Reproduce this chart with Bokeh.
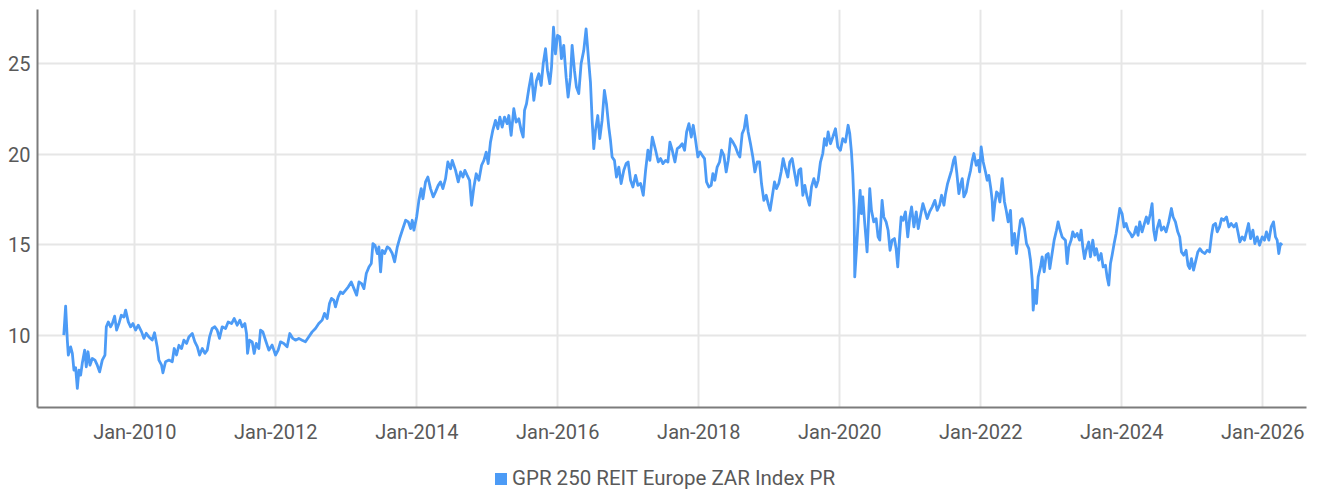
import pandas as pd
from bokeh.plotting import figure
from bokeh.layouts import column
from bokeh.models import (FixedTicker, DatetimeTickFormatter, Legend, LegendItem,
                          Range1d, ColumnDataSource)
from bokeh.embed import file_html
from bokeh.resources import INLINE

SERIES_NAME = "GPR 250 REIT Europe ZAR Index PR"

# decimal year / index level
t_2009_2011 = [2008.993, 2009.017, 2009.041, 2009.055, 2009.088, 2009.112, 2009.135, 2009.159,
               2009.183, 2009.206, 2009.230, 2009.253, 2009.287, 2009.310, 2009.334, 2009.362,
               2009.395, 2009.433, 2009.466, 2009.499, 2009.537, 2009.575, 2009.594, 2009.622,
               2009.655, 2009.679, 2009.712, 2009.740, 2009.773, 2009.807, 2009.844, 2009.868,
               2009.906, 2009.939, 2009.972, 2010.010, 2010.048, 2010.095, 2010.128, 2010.161,
               2010.199, 2010.246, 2010.279, 2010.317, 2010.341, 2010.379, 2010.398, 2010.435,
               2010.483, 2010.530, 2010.558, 2010.591, 2010.625, 2010.662, 2010.695, 2010.733,
               2010.766, 2010.814, 2010.851, 2010.885, 2010.918, 2010.956, 2010.993, 2011.027,
               2011.060, 2011.097, 2011.135, 2011.168, 2011.201, 2011.239, 2011.287, 2011.324,
               2011.372, 2011.410, 2011.452, 2011.490, 2011.523, 2011.561, 2011.584, 2011.599,
               2011.627, 2011.665, 2011.693, 2011.722, 2011.759, 2011.783, 2011.816, 2011.854]
v_2009_2011 = [10.0, 11.6, 9.72, 8.9, 9.35, 8.99, 8.07, 8.2,
               7.06, 8.07, 7.79, 8.44, 9.17, 8.25, 9.08, 8.34,
               8.71, 8.62, 8.34, 7.97, 8.62, 8.9, 10.46, 10.73,
               10.46, 10.64, 11.05, 10.28, 10.64, 11.1, 11.0, 11.38,
               10.73, 10.46, 10.64, 10.28, 10.55, 10.18, 9.82, 10.1,
               9.9, 9.73, 10.13, 9.35, 8.62, 8.34, 7.92, 8.53,
               8.62, 8.53, 9.26, 8.9, 9.44, 9.26, 9.72, 9.54,
               9.9, 10.09, 9.63, 9.36, 8.9, 9.26, 8.99, 9.17,
               9.9, 10.37, 10.46, 10.28, 9.82, 10.46, 10.37, 10.73,
               10.64, 10.92, 10.55, 10.83, 10.46, 10.64, 10.09, 8.99,
               9.72, 9.63, 8.99, 9.54, 9.26, 10.28, 10.18, 9.72]

t_2012_2014 = [2011.901, 2011.948, 2011.996, 2012.034, 2012.067, 2012.114, 2012.161, 2012.199,
               2012.242, 2012.279, 2012.327, 2012.374, 2012.421, 2012.469, 2012.516, 2012.563,
               2012.610, 2012.658, 2012.691, 2012.729, 2012.762, 2012.790, 2012.823, 2012.847,
               2012.885, 2012.918, 2012.951, 2012.989, 2013.027, 2013.069, 2013.107, 2013.145,
               2013.178, 2013.216, 2013.249, 2013.282, 2013.320, 2013.353, 2013.376, 2013.405,
               2013.438, 2013.461, 2013.485, 2013.509, 2013.542, 2013.580, 2013.613, 2013.651,
               2013.684, 2013.722, 2013.755, 2013.793, 2013.840, 2013.878, 2013.911, 2013.934,
               2013.958, 2013.996, 2014.029, 2014.062, 2014.086, 2014.123, 2014.156, 2014.194,
               2014.232, 2014.265, 2014.303, 2014.336, 2014.369, 2014.407, 2014.440, 2014.478,
               2014.502]
v_2012_2014 = [9.17, 9.45, 8.9, 9.17, 9.63, 9.54, 9.36, 10.09,
               9.82, 9.72, 9.82, 9.72, 9.63, 9.91, 10.18, 10.37,
               10.64, 10.83, 11.2, 10.92, 11.75, 12.03, 11.94, 11.56,
               12.12, 12.39, 12.3, 12.48, 12.67, 12.94, 12.57, 12.21,
               12.94, 12.85, 12.57, 13.41, 13.77, 13.96, 15.06, 14.97,
               14.51, 14.88, 13.5, 14.69, 14.51, 14.88, 14.78, 14.51,
               14.05, 14.88, 15.34, 15.8, 16.35, 16.26, 15.89, 16.35,
               15.8, 16.53, 17.45, 18.1, 17.54, 18.47, 18.74, 18.1,
               17.64, 17.92, 18.28, 18.47, 18.1, 18.65, 19.57, 19.2,
               19.66]

t_2014_2017 = [2014.549, 2014.587, 2014.620, 2014.653, 2014.681, 2014.714, 2014.748, 2014.776,
               2014.809, 2014.842, 2014.880, 2014.918, 2014.951, 2014.984, 2015.012, 2015.045,
               2015.078, 2015.116, 2015.149, 2015.178, 2015.211, 2015.244, 2015.282, 2015.305,
               2015.338, 2015.376, 2015.409, 2015.447, 2015.480, 2015.509, 2015.528, 2015.556,
               2015.589, 2015.627, 2015.660, 2015.698, 2015.731, 2015.764, 2015.793, 2015.826,
               2015.854, 2015.887, 2015.911, 2015.939, 2015.967, 2015.996, 2016.029, 2016.052,
               2016.085, 2016.119, 2016.147, 2016.180, 2016.204, 2016.237, 2016.265, 2016.298,
               2016.331, 2016.369, 2016.402, 2016.440, 2016.464, 2016.488, 2016.511, 2016.535,
               2016.568, 2016.596, 2016.629, 2016.662, 2016.691, 2016.724, 2016.748, 2016.771,
               2016.804, 2016.833, 2016.866, 2016.899, 2016.937, 2016.970, 2016.998, 2017.031,
               2017.064, 2017.102, 2017.135, 2017.173, 2017.211, 2017.244, 2017.277, 2017.305,
               2017.339]
v_2014_2017 = [19.11, 18.47, 19.02, 18.74, 19.11, 18.83, 18.56, 17.18,
               18.19, 18.92, 18.56, 19.39, 19.66, 20.12, 19.48, 20.67,
               21.32, 21.87, 21.41, 22.05, 21.5, 22.05, 21.69, 22.14,
               21.04, 22.52, 21.78, 21.96, 21.32, 20.95, 22.42, 22.79,
               23.62, 24.45, 22.98, 24.08, 24.45, 23.8, 25.0, 25.83,
               24.63, 23.9, 24.81, 27.02, 25.55, 26.57, 26.48, 25.28,
               26.02, 24.26, 23.16, 24.26, 26.02, 24.63, 23.71, 23.35,
               25.0, 25.74, 26.93, 25.09, 23.99, 21.87, 20.31, 21.32,
               22.14, 20.86, 21.87, 23.53, 22.79, 21.5, 20.77, 19.85,
               19.66, 18.74, 19.29, 18.38, 19.11, 19.48, 19.57, 18.56,
               18.19, 18.83, 18.28, 18.38, 17.73, 19.11, 20.22, 19.66,
               20.95]

t_2017_2020 = [2017.386, 2017.424, 2017.457, 2017.490, 2017.528, 2017.561, 2017.589, 2017.622,
               2017.660, 2017.693, 2017.726, 2017.764, 2017.797, 2017.826, 2017.859, 2017.892,
               2017.920, 2017.953, 2017.986, 2018.015, 2018.048, 2018.081, 2018.109, 2018.142,
               2018.175, 2018.199, 2018.227, 2018.260, 2018.294, 2018.322, 2018.355, 2018.388,
               2018.417, 2018.450, 2018.483, 2018.520, 2018.554, 2018.582, 2018.615, 2018.644,
               2018.672, 2018.700, 2018.733, 2018.766, 2018.795, 2018.828, 2018.861, 2018.889,
               2018.922, 2018.956, 2018.984, 2019.012, 2019.041, 2019.074, 2019.102, 2019.135,
               2019.168, 2019.197, 2019.230, 2019.263, 2019.291, 2019.324, 2019.357, 2019.390,
               2019.419, 2019.447, 2019.476, 2019.504, 2019.537, 2019.570, 2019.599, 2019.632,
               2019.665, 2019.693, 2019.726, 2019.759, 2019.783, 2019.811, 2019.835, 2019.868,
               2019.901, 2019.939, 2019.972, 2020.010, 2020.043, 2020.081, 2020.119, 2020.142,
               2020.166, 2020.185, 2020.204, 2020.213]
v_2017_2020 = [20.22, 19.57, 19.76, 19.48, 19.66, 19.57, 20.67, 20.22,
               19.57, 20.31, 20.4, 20.58, 20.22, 21.23, 21.69, 20.95,
               21.6, 20.77, 19.85, 20.13, 19.94, 19.76, 18.47, 18.19,
               18.28, 18.93, 18.56, 19.29, 19.57, 20.22, 19.94, 19.02,
               19.66, 20.86, 20.67, 20.4, 20.04, 19.85, 21.14, 21.41,
               22.15, 21.23, 20.58, 19.85, 19.02, 19.57, 19.57, 18.38,
               17.45, 17.73, 17.27, 16.9, 17.64, 18.47, 18.1, 18.38,
               19.02, 19.76, 19.2, 18.74, 19.57, 19.76, 19.02, 18.28,
               19.11, 19.2, 17.73, 18.28, 17.64, 17.18, 18.19, 18.65,
               18.19, 18.56, 19.57, 20.04, 20.86, 20.49, 21.23, 20.58,
               20.95, 21.41, 20.4, 20.22, 20.86, 20.67, 21.6, 21.14,
               20.13, 18.93, 17.09, 13.22]

t_2020_2023 = [2020.246, 2020.270, 2020.289, 2020.308, 2020.327, 2020.355, 2020.388, 2020.402,
               2020.426, 2020.450, 2020.483, 2020.516, 2020.544, 2020.568, 2020.601, 2020.625,
               2020.658, 2020.686, 2020.714, 2020.743, 2020.776, 2020.800, 2020.823, 2020.847,
               2020.871, 2020.899, 2020.932, 2020.965, 2020.994, 2021.017, 2021.050, 2021.083,
               2021.112, 2021.145, 2021.178, 2021.206, 2021.239, 2021.272, 2021.310, 2021.348,
               2021.381, 2021.414, 2021.443, 2021.476, 2021.499, 2021.528, 2021.556, 2021.584,
               2021.613, 2021.632, 2021.660, 2021.688, 2021.717, 2021.736, 2021.759, 2021.792,
               2021.821, 2021.854, 2021.878, 2021.901, 2021.934, 2021.963, 2021.982, 2022.005,
               2022.034, 2022.067, 2022.090, 2022.114, 2022.142, 2022.161, 2022.175, 2022.199,
               2022.223, 2022.246, 2022.270, 2022.303, 2022.336, 2022.360, 2022.388, 2022.421,
               2022.445, 2022.478, 2022.506, 2022.540, 2022.563, 2022.587, 2022.620, 2022.648,
               2022.681, 2022.705, 2022.729, 2022.743, 2022.767, 2022.790, 2022.814, 2022.847,
               2022.870, 2022.899, 2022.927, 2022.956, 2022.979, 2023.012, 2023.041, 2023.074,
               2023.097, 2023.126, 2023.154]
v_2020_2023 = [15.25, 16.9, 18.0, 16.72, 17.64, 16.17, 14.6, 15.8,
               18.1, 16.9, 16.26, 16.44, 15.43, 15.25, 17.45, 16.53,
               16.26, 15.8, 14.69, 15.25, 15.34, 14.78, 13.77, 15.25,
               16.53, 16.35, 16.81, 15.43, 16.53, 17.09, 15.98, 16.81,
               15.89, 16.62, 17.27, 16.9, 16.44, 16.81, 17.09, 17.45,
               16.9, 17.18, 17.73, 17.18, 17.82, 18.38, 18.74, 19.11,
               19.66, 19.85, 18.93, 17.82, 18.38, 18.65, 17.64, 17.92,
               18.56, 19.11, 19.66, 20.04, 19.39, 19.66, 19.02, 20.4,
               19.57, 19.02, 18.56, 18.83, 18.1, 17.45, 16.35, 17.27,
               17.92, 17.82, 17.36, 18.65, 17.36, 16.9, 16.26, 16.9,
               14.97, 15.62, 14.51, 15.71, 16.35, 16.44, 15.89, 15.06,
               14.78, 14.14, 13.04, 11.38, 12.48, 11.75, 13.22, 13.77,
               14.33, 13.5, 14.42, 14.51, 13.68, 14.51, 15.25, 15.8,
               16.26, 15.8, 15.43]

t_2023_2026 = [2023.201, 2023.225, 2023.249, 2023.282, 2023.305, 2023.334, 2023.367, 2023.400,
               2023.424, 2023.447, 2023.471, 2023.495, 2023.532, 2023.556, 2023.589, 2023.617,
               2023.641, 2023.674, 2023.707, 2023.736, 2023.769, 2023.792, 2023.816, 2023.840,
               2023.863, 2023.892, 2023.920, 2023.944, 2023.972, 2024.005, 2024.034, 2024.062,
               2024.090, 2024.123, 2024.147, 2024.180, 2024.204, 2024.232, 2024.256, 2024.289,
               2024.322, 2024.350, 2024.374, 2024.407, 2024.431, 2024.454, 2024.478, 2024.502,
               2024.535, 2024.563, 2024.596, 2024.630, 2024.667, 2024.705, 2024.729, 2024.762,
               2024.795, 2024.823, 2024.847, 2024.880, 2024.913, 2024.941, 2024.965, 2024.989,
               2025.017, 2025.045, 2025.078, 2025.107, 2025.140, 2025.178, 2025.211, 2025.244,
               2025.272, 2025.296, 2025.329, 2025.353, 2025.386, 2025.414, 2025.447, 2025.485,
               2025.518, 2025.551, 2025.589, 2025.622, 2025.651, 2025.674, 2025.707, 2025.740,
               2025.769, 2025.797, 2025.826, 2025.859, 2025.887, 2025.920, 2025.953, 2025.991,
               2026.024, 2026.052, 2026.086, 2026.119, 2026.152, 2026.180, 2026.204, 2026.227,
               2026.251, 2026.275]
v_2023_2026 = [15.25, 13.96, 14.88, 15.25, 15.71, 15.43, 15.62, 15.25,
               15.8, 14.88, 14.23, 14.69, 15.15, 14.33, 15.25, 14.42,
               14.78, 14.14, 14.51, 13.77, 13.86, 13.22, 12.76, 13.96,
               14.42, 15.06, 15.62, 16.26, 17.0, 16.72, 15.98, 16.17,
               15.8, 15.62, 15.43, 15.62, 15.98, 15.52, 16.26, 15.71,
               16.17, 16.53, 16.17, 16.72, 17.27, 15.8, 15.25, 15.89,
               16.35, 15.8, 15.98, 15.71, 16.26, 17.0, 16.53, 16.26,
               15.71, 15.43, 14.6, 14.42, 14.69, 13.86, 13.68, 14.23,
               13.59, 14.05, 14.6, 14.78, 14.6, 14.51, 14.69, 14.6,
               15.52, 16.08, 16.17, 15.71, 15.98, 16.44, 16.35, 16.53,
               15.98, 16.17, 15.98, 16.17, 15.62, 15.15, 15.43, 15.25,
               15.71, 16.17, 15.34, 15.8, 15.06, 15.43, 14.97, 15.43,
               15.25, 15.71, 15.25, 15.98, 16.26, 15.43, 15.25, 14.51,
               15.06, 14.97]

y_ticks = [10, 15, 20, 25]
x_tick_years = [2010, 2012, 2014, 2016, 2018, 2020, 2022, 2024, 2026]

LINE_COLOR = "#4c9bf6"
TEXT_COLOR = "#595959"


def to_dt(y):
    yi = int(y)
    return pd.Timestamp(year=yi, month=1, day=1) + pd.Timedelta(days=(y - yi) * 365.25)


t_all = t_2009_2011 + t_2012_2014 + t_2014_2017 + t_2017_2020 + t_2020_2023 + t_2023_2026
v_all = v_2009_2011 + v_2012_2014 + v_2014_2017 + v_2017_2020 + v_2020_2023 + v_2023_2026
src = ColumnDataSource(data=dict(date=[to_dt(t) for t in t_all], value=v_all))

p = figure(width=1319, height=450, x_axis_type="datetime",
           output_backend="svg", toolbar_location=None,
           x_range=Range1d(to_dt(2008.62), to_dt(2026.62)),
           y_range=Range1d(6.0, 28.0),
           min_border_left=37, min_border_right=13, min_border_top=9, min_border_bottom=43)
p.outline_line_color = None
p.background_fill_color = "white"

p.line("date", "value", source=src, line_color=LINE_COLOR, line_width=2.8, line_join="round")

x_ticks_ms = [pd.Timestamp(year=y, month=1, day=1).timestamp() * 1000 for y in x_tick_years]
xticker = FixedTicker(ticks=x_ticks_ms)
yticker = FixedTicker(ticks=y_ticks)
p.xaxis.ticker = xticker
p.yaxis.ticker = yticker
p.xgrid.ticker = xticker
p.ygrid.ticker = yticker
fmt = "%b-%Y"
p.xaxis.formatter = DatetimeTickFormatter(years=fmt, months=fmt, days=fmt, hours=fmt,
                                          minutes=fmt, seconds=fmt, milliseconds=fmt)

for ax in (p.xaxis[0], p.yaxis[0]):
    ax.axis_line_color = "#7c7c7c"
    ax.axis_line_width = 2
    ax.major_tick_line_color = None
    ax.minor_tick_line_color = None
    ax.major_tick_out = 0
    ax.major_tick_in = 0
    ax.major_label_text_font = "Roboto"
    ax.major_label_text_font_size = "20px"
    ax.major_label_text_color = TEXT_COLOR
p.xaxis.major_label_standoff = 12
p.yaxis.major_label_standoff = 7

for g in (p.xgrid[0], p.ygrid[0]):
    g.grid_line_color = "#e6e6e6"
    g.grid_line_width = 2

# legend strip under the chart (its frame is aligned with the chart frame by the column)
pl = figure(width=1319, height=43, output_backend="svg", toolbar_location=None,
            x_axis_location=None, y_axis_location=None,
            x_range=Range1d(0, 1), y_range=Range1d(0, 1), min_border=0)
pl.grid.visible = False
pl.outline_line_color = None
# zero-size swatch source: only used to draw the legend key
key = pl.quad(left=[0], right=[0], top=[0], bottom=[0], fill_color=LINE_COLOR,
              fill_alpha=1.0, line_color=None)
legend = Legend(items=[LegendItem(label=SERIES_NAME, renderers=[key])],
                orientation="horizontal", location=(456, 3),
                border_line_color=None, background_fill_alpha=0,
                glyph_width=15, glyph_height=15, label_standoff=4, label_height=20,
                label_text_font="Roboto", label_text_font_size="20.5px",
                label_text_color=TEXT_COLOR, margin=0, padding=0)
pl.add_layout(legend)

open("out.html", "w").write(file_html(column(p, pl), INLINE))
